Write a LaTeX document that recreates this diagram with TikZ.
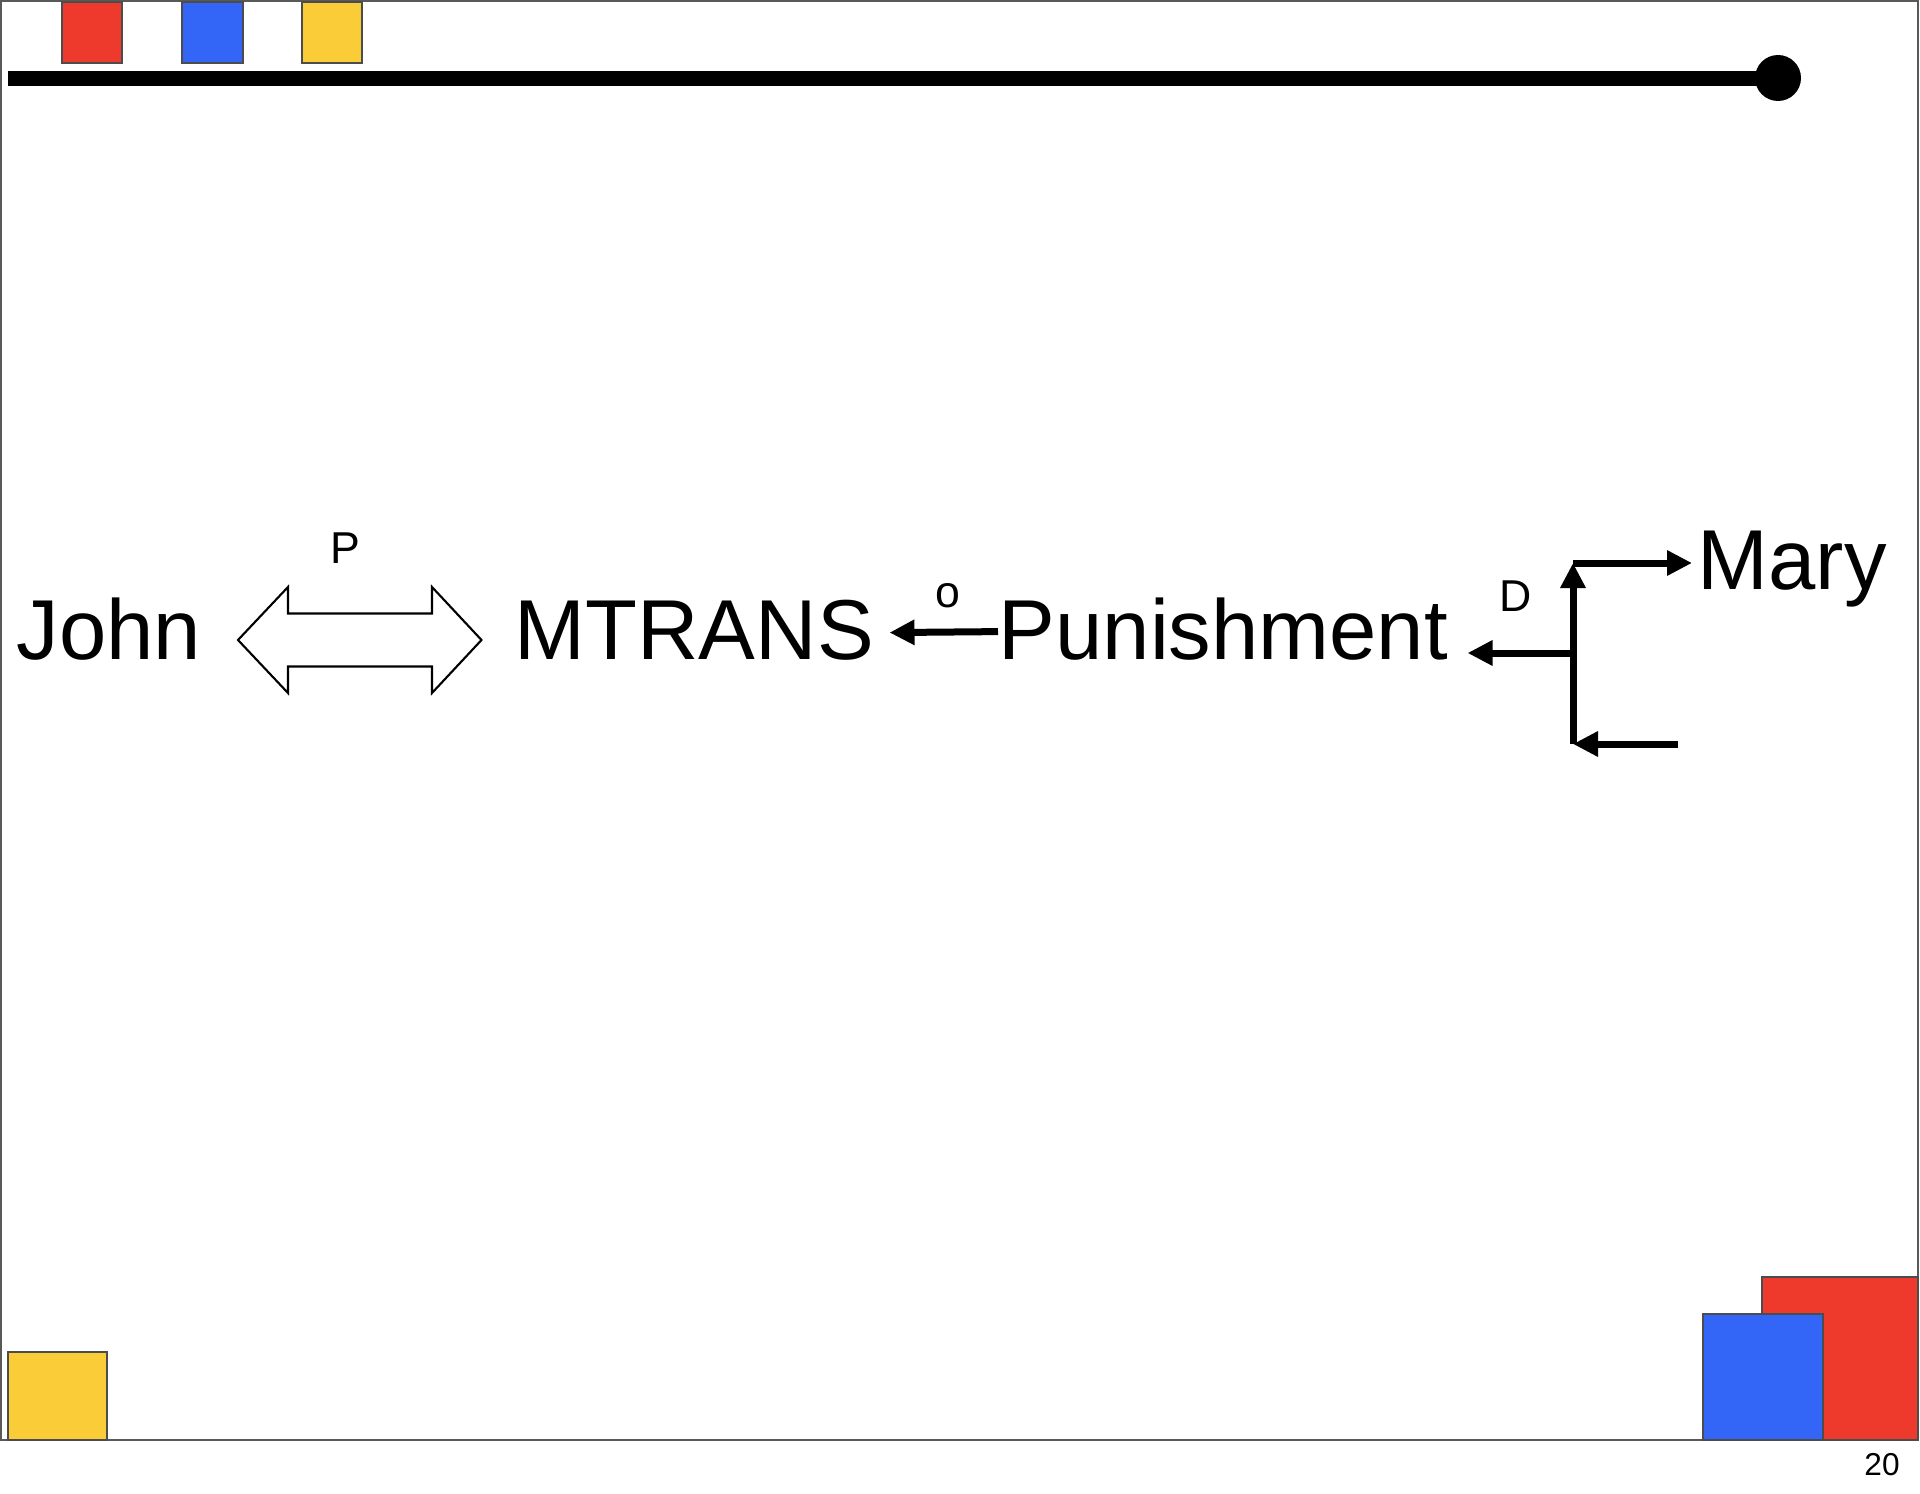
\documentclass[tikz,border=0pt]{standalone}
\usepackage{fontspec}
\setmainfont{Liberation Sans}
\usetikzlibrary{arrows.meta}
\definecolor{tilered}{HTML}{EE3A2C}
\definecolor{tileblue}{HTML}{3366F6}
\definecolor{tileyellow}{HTML}{F9CC38}
\tikzset{%
  >={Triangle[length=2.5mm,width=2.4mm]},
  % Specifications for style of nodes:
          word/.style = {inner sep=0, anchor=base west,
                         font=\fontsize{24.2}{28}\selectfont},
           tag/.style = {inner sep=0, font=\fontsize{12.7}{15}\selectfont},
          tile/.style = {draw=black!70, line width=0.2mm},
          link/.style = {->, line width=0.7mm},
        hollow/.style = {draw, line width=0.6pt, line join=miter},
}

\begin{document}
\begin{tikzpicture}[x=0.1mm, y=-0.1mm]
  \useasboundingbox (0,0) rectangle (1920,1494);
  % Slide frame and coloured tiles
  \draw[black!65, line width=0.2mm] (1,1) rectangle (1918,1440);
  \filldraw[tile, fill=tilered]    (62,2)  rectangle (122,63);
  \filldraw[tile, fill=tileblue]   (182,2) rectangle (243,63);
  \filldraw[tile, fill=tileyellow] (302,2) rectangle (362,63);
  \filldraw[tile, fill=tileyellow] (8,1352) rectangle (107,1440);
  \filldraw[tile, fill=tilered]    (1762,1277) rectangle (1918,1440);
  \filldraw[tile, fill=tileblue]   (1703,1314) rectangle (1823,1440);
  \draw[line width=1.5mm] (8,79) -- (1765,79);
  \fill (1778,78) circle (2.3mm);
  \node (pageno) [font=\fontsize{9}{11}\selectfont] at (1882,1465) {20};

  % Specification of nodes (position, etc.)
  \node (john)   [word] at (16,659)    {John};
  \node (mtrans) [word] at (514,659)   {MTRANS};
  \node (punish) [word] at (998,659)   {Punishment};
  \node (mary)   [word] at (1697,589)  {Mary};
  \coordinate (pmid) at (359.5,640);
  \coordinate (dtop) at (1573,563);
  \coordinate (dmid) at (1573,653);
  \coordinate (dbot) at (1573,744);
  \coordinate (dsrc) at (1678,744);

  % hollow double arrow between John and MTRANS
  \draw[hollow] (pmid) ++(-121.5,0) -- ++(50,-53) -- ++(0,26.5) -- ++(144,0)
    -- ++(0,-26.5) -- ++(49.5,53) -- ++(-49.5,53) -- ++(0,-26.5)
    -- ++(-144,0) -- ++(0,26.5) -- cycle;
  \node (ptag)   [tag] at (345,548) {P};

  \draw[link, shorten >=1.5mm] ([yshift=-0.3mm]punish.west)
    -- ([yshift=-0.3mm]mtrans.east)
    node[tag, midway, above=2.1mm, xshift=1.2mm] (otag) {o};
  \draw[link] (dmid) -- ([xshift=1.9mm]punish.east |- dmid)
    node[tag, midway, above=3.8mm, xshift=-0.5mm] (dtag) {D};
  \draw[link] (dbot) -- (dtop);
  \draw[link] (dtop) -- ([xshift=-0.5mm]mary.west |- dtop);
  \draw[link] (dsrc) -- (dbot);
\end{tikzpicture}
\end{document}
